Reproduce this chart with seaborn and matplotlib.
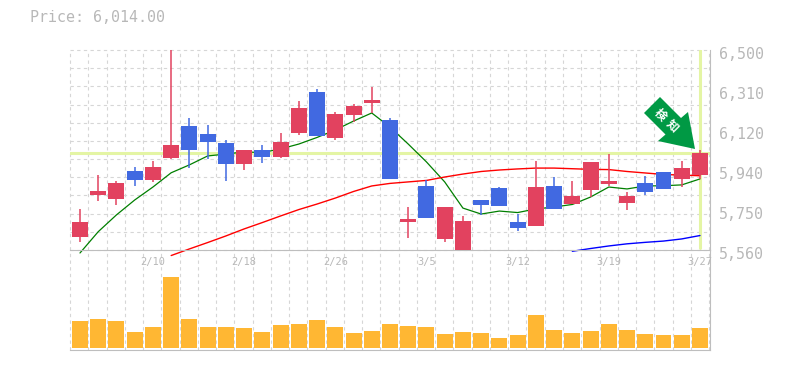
########################################################
# Required Python Packages
########################################################
import numpy as np
import seaborn as sns
import matplotlib.pyplot as plt
from matplotlib.patches import Polygon
from matplotlib.transforms import ScaledTranslation

########################################################
# Chart Data
########################################################
days = list(range(35))

opens = [5622, 5818, 5800, 5931, 5889, 5992, 6143, 6105, 6063, 5964, 6030, 5997,
         6110, 6303, 6086, 6195, 6251, 6171, 5692, 5861, 5612, 5560, 5795, 5851,
         5692, 5673, 5861, 5776, 5842, 5870, 5781, 5875, 5927, 5894, 5913]
closes = [5692, 5837, 5875, 5889, 5950, 6053, 6030, 6068, 5964, 6030, 5997, 6068,
          6227, 6096, 6199, 6237, 6265, 5894, 5706, 5710, 5762, 5696, 5772, 5767,
          5663, 5856, 5753, 5814, 5974, 5884, 5814, 5833, 5847, 5945, 6014]
highs = [5753, 5912, 5883, 5950, 5978, 6500, 6180, 6148, 6077, 6030, 6053, 6110,
         6260, 6317, 6209, 6246, 6326, 6180, 5762, 5889, 5762, 5720, 5795, 5856,
         5729, 5978, 5903, 5884, 5974, 6011, 5833, 5908, 5927, 5978, 6030]
lows = [5599, 5792, 5771, 5862, 5880, 5988, 5945, 5988, 5884, 5936, 5969, 5992,
        6100, 6096, 6077, 6162, 6204, 5894, 5616, 5710, 5598, 5555, 5725, 5767,
        5649, 5673, 5753, 5776, 5809, 5861, 5748, 5819, 5847, 5856, 5894]

ma_short = [5546, 5646, 5725, 5795, 5856, 5923, 5960, 6002, 6011, 6021, 6018, 6035,
            6058, 6089, 6124, 6166, 6204, 6138, 6058, 5974, 5880, 5757, 5729, 5743,
            5736, 5753, 5762, 5774, 5809, 5856, 5847, 5861, 5862, 5866, 5894]
ma_mid = [np.nan] * 5 + [5534, 5565, 5595, 5626, 5659, 5689, 5720, 5750, 5776, 5804,
                         5835, 5861, 5873, 5880, 5887, 5903, 5917, 5929, 5936, 5941,
                         5945, 5945, 5942, 5939, 5938, 5929, 5922, 5915, 5912, 5909]
ma_long = [np.nan] * 27 + [5554, 5567, 5579, 5589, 5596, 5602, 5612, 5628]

volumes = [27, 29, 27, 16, 21, 71, 29, 21, 21, 20, 16, 23, 24, 28, 21, 15, 17, 24,
           22, 21, 14, 16, 15, 10, 13, 33, 18, 15, 17, 24, 18, 14, 13, 13, 20]

last_price = 6014
price_ticks = [6500, 6312, 6124, 5936, 5748, 5560]
price_labels = ["6,500", "6,310", "6,120", "5,940", "5,750", "5,560"]
date_ticks = [4, 9, 14, 19, 24, 29, 34]
date_labels = ["2/10", "2/18", "2/26", "3/5", "3/12", "3/19", "3/27"]
title_text = "Price: 6,014.00"
badge_chars = ["検", "知"]

########################################################
# Colours
########################################################
UP_COLOR = "#E2425F"
DOWN_COLOR = "#4169E1"
VOLUME_COLOR = "#FFB733"
MARKER_COLOR = "#E4F5A4"
GRID_COLOR = "#D6D6D6"
AXIS_COLOR = "#BEBEBE"
TEXT_COLOR = "#B8B8B8"
BADGE_COLOR = "#009944"

WIDTH, HEIGHT = 785, 370
X_LIMITS = (-0.548, 34.55)
GRID_STYLE = dict(color=GRID_COLOR, lw=0.8, ls=(0, (3, 3)), clip_on=False)


########################################################
# Pixel box of the reference -> figure fractions
########################################################
def PanelBox(left, top, right, bottom):
    return [left / WIDTH, 1 - bottom / HEIGHT, (right - left) / WIDTH, (bottom - top) / HEIGHT]


########################################################
# Shared look of both panels
########################################################
def StylePanel(ax):
    ax.set_xlim(*X_LIMITS)
    ax.set_xlabel("")
    ax.set_ylabel("")
    ax.grid(False)
    ax.tick_params(which="both", length=0)
    ax.set_axisbelow(True)
    ax.patch.set_alpha(0)
    for side in ["left", "top"]:
        ax.spines[side].set_visible(False)
    for side in ["right", "bottom"]:
        ax.spines[side].set_color(AXIS_COLOR)
        ax.spines[side].set_linewidth(0.8)


########################################################
# Grid: vertical lines behind both panels, horizontal
# lines behind the price panel only
########################################################
def DrawBackdrop(fig):
    ax = fig.add_axes(PanelBox(70, 50, 710, 350), zorder=-1)
    ax.set_xlim(*X_LIMITS)
    ax.set_xticks([])
    ax.set_yticks([])
    ax.vlines(np.linspace(X_LIMITS[0], X_LIMITS[1] - 0.05, 36), 0, 1,
              transform=ax.get_xaxis_transform(), **GRID_STYLE)
    for spine in ax.spines.values():
        spine.set_visible(False)

    ax = fig.add_axes(PanelBox(70, 50, 710, 250), zorder=-1)
    ax.set_ylim(5560, 6500)
    ax.set_xticks([])
    ax.set_yticks([])
    ax.patch.set_alpha(0)
    ax.hlines(np.linspace(5560, 6500, 12), 0, 1,
              transform=ax.get_yaxis_transform(), **GRID_STYLE)
    for spine in ax.spines.values():
        spine.set_visible(False)


########################################################
# Price panel: candles, moving averages, last price
########################################################
def DrawPrice(fig):
    ax = fig.add_axes(PanelBox(70, 50, 710, 250), zorder=2)

    ax.axhline(last_price, color=MARKER_COLOR, lw=2.2, zorder=1)
    ax.axvline(days[-1], ymin=0.01, color=MARKER_COLOR, lw=2.2, zorder=1)

    sns.lineplot(x=days, y=ma_short, color="#007F00", lw=0.9, errorbar=None, clip_on=False, zorder=2, ax=ax)
    sns.lineplot(x=days, y=ma_mid, color="#FF0000", lw=1.0, errorbar=None, clip_on=False, zorder=2, ax=ax)
    sns.lineplot(x=days, y=ma_long, color="#0000FF", lw=1.0, errorbar=None, clip_on=False, zorder=2, ax=ax)

    colors = [UP_COLOR if c >= o else DOWN_COLOR for o, c in zip(opens, closes)]
    ax.vlines(days, lows, highs, colors=colors, lw=1.1, zorder=3)
    bottoms = np.minimum(opens, closes)
    heights = np.abs(np.array(closes) - np.array(opens))
    ax.bar(days, heights, width=0.877, bottom=bottoms, color=colors, linewidth=0, zorder=4)

    ax.set_ylim(5560, 6500)
    StylePanel(ax)

    ax.yaxis.tick_right()
    ax.set_yticks(price_ticks, price_labels)
    ax.tick_params(axis="y", which="major", pad=6.5, labelsize=10.8, labelcolor=TEXT_COLOR)
    offset = ScaledTranslation(0, -3 / 100, fig.dpi_scale_trans)
    for label in ax.get_yticklabels():
        label.set_transform(label.get_transform() + offset)

    ax.set_xticks(date_ticks, date_labels)
    ax.tick_params(axis="x", which="major", pad=5, labelsize=7.5, labelcolor=TEXT_COLOR)
    return ax


########################################################
# Volume panel
########################################################
def DrawVolume(fig):
    ax = fig.add_axes(PanelBox(70, 250, 710, 350), zorder=1)
    sns.barplot(x=days, y=volumes, color=VOLUME_COLOR, saturation=1, width=0.877,
                linewidth=0, native_scale=True, ax=ax)
    ax.set_ylim(-2, 98)
    StylePanel(ax)
    ax.set_xticks([])
    ax.set_yticks([])
    return ax


########################################################
# Green detection arrow, pointing at the last candle
########################################################
def DrawBadge(fig):
    outline = np.array([(660, 97), (681, 118), (688, 112), (695, 149),
                        (658, 141), (665.5, 134.5), (644, 113)], dtype=float)
    outline[:, 0] /= WIDTH
    outline[:, 1] = 1 - outline[:, 1] / HEIGHT
    fig.add_artist(Polygon(outline, closed=True, facecolor=BADGE_COLOR, edgecolor="none", zorder=10))
    spots = [(660, 115), (672, 126)]
    for char, (x, y) in zip(badge_chars, spots):
        fig.text(x / WIDTH, 1 - y / HEIGHT, char, color="white", rotation=-45,
                 rotation_mode="anchor", ha="center", va="center", fontsize=8.5, fontweight="bold",
                 family=["Noto Sans CJK JP", "DejaVu Sans"], zorder=11)


########################################################
# Main Execution
########################################################
def main():
    sns.set_style("white")
    plt.rcParams["font.family"] = ["DejaVu Sans Mono"]

    fig = plt.figure(figsize=(WIDTH / 100, HEIGHT / 100), dpi=100)
    DrawBackdrop(fig)
    DrawVolume(fig)
    DrawPrice(fig)
    DrawBadge(fig)

    fig.text(30 / WIDTH, 1 - 18 / HEIGHT, title_text, color=TEXT_COLOR, fontsize=10.8, va="center")

    fig.savefig("out.png", dpi=100)


if __name__ == "__main__":
    main()
